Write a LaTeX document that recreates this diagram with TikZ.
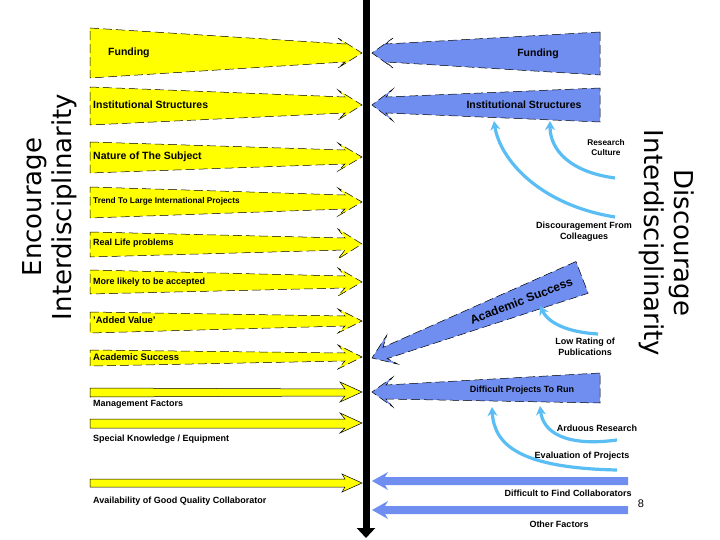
\documentclass[tikz,border=0pt]{standalone}
\usepackage{fontspec}
\setmainfont{Liberation Sans}
\newfontfamily\sidefont{DejaVu Sans}
\usetikzlibrary{arrows.meta}
\definecolor{yel}{RGB}{255,255,0}
\definecolor{blu}{RGB}{112,142,240}
\definecolor{lblu}{RGB}{90,190,245}
\tikzset{
  yarrow/.style={fill=yel,draw=black,dashed,line width=0.5pt,dash pattern=on 9pt off 4pt},
  barrow/.style={fill=blu,draw=black,dashed,line width=0.5pt,dash pattern=on 9pt off 4pt},
  lab/.style={font=\bfseries\fontsize{10.5}{12}\selectfont,inner sep=0pt},
  slab/.style={font=\bfseries\fontsize{9}{11}\selectfont,inner sep=0pt},
  curv/.style={draw=lblu,line width=3.2pt,-{Stealth[length=9pt,width=10pt]}},
  side/.style={font=\sidefont\fontsize{26}{30}\selectfont,align=center,inner sep=0pt}
}
\newcommand\yarr[5]{% top bottom tip shafthalf headhalf
  \path[yarrow] (90,#1) -- (345,#3-#4) -- (338,#3-#5) -- (362,#3) -- (338,#3+#5) -- (345,#3+#4) -- (90,#2) -- cycle;}
\newcommand\barr[5]{% top bottom tip shafthalf headhalf
  \path[barrow] (600,#1) -- (386,#3-#4) -- (393,#3-#5) -- (372,#3) -- (393,#3+#5) -- (386,#3+#4) -- (600,#2) -- cycle;}
\begin{document}
\begin{tikzpicture}[x=1pt,y=-1pt]
\useasboundingbox (0,0) rectangle (720,540);
\fill[white] (0,0) rectangle (720,540);
% yellow arrows
\yarr{28}{78}{53}{9}{15}
\yarr{87}{125}{105}{8}{15}
\yarr{142}{173}{157}{7}{14}
\yarr{187}{218}{202}{7}{14}
\yarr{232}{257}{244}{6}{15}
\yarr{270}{294}{282}{6}{14}
\yarr{312}{333}{321}{5}{12}
\yarr{350}{366}{357}{4}{12}
\path[yarrow,solid] (90,388) -- (345,389) -- (340,382) -- (362,392) -- (340,402) -- (345,396) -- (90,397) -- cycle;
\path[yarrow,solid] (90,419) -- (345,419) -- (340,413) -- (362,423) -- (340,433) -- (345,428) -- (90,428) -- cycle;
\path[yarrow,solid] (90,479) -- (345,479) -- (342,474) -- (362,483) -- (342,492) -- (345,487) -- (90,487) -- cycle;
\node[lab,anchor=west] (y1) at (108,53) {Funding};
\node[lab,anchor=west] (y2) at (93,105) {Institutional Structures};
\node[lab,anchor=west] (y3) at (93,157) {Nature of The Subject};
\node[slab,anchor=west,font=\bfseries\fontsize{8.3}{10}\selectfont] (y4) at (93,201) {Trend To Large International Projects};
\node[slab,anchor=west] (y5) at (93,243) {Real Life problems};
\node[slab,anchor=west] (y6) at (93,282) {More likely to be accepted};
\node[lab,anchor=west,font=\bfseries\fontsize{9.5}{11}\selectfont] (y7) at (93,320) {'Added Value'};
\node[lab,anchor=west,font=\bfseries\fontsize{9.5}{11}\selectfont] (y8) at (93,357) {Academic Success};
\node[slab,anchor=west] (y9) at (93,404) {Management Factors};
\node[slab,anchor=west] (y10) at (93,439) {Special Knowledge / Equipment};
\node[slab,anchor=west] (y11) at (93,501) {Availability of Good Quality Collaborator};
% central axis
\draw[line width=7pt,-{Triangle[length=10pt,width=18pt]}] (366,0) -- (366,538);
% blue arrows
\barr{32}{75}{53}{9}{15}
\barr{88}{122}{105}{8}{16}
\barr{373}{403}{392}{7}{15}
\node[lab] (b1) at (538,54) {Funding};
\node[lab] (b2) at (524,105) {Institutional Structures};
\node[slab] (b3) at (522,390) {Difficult Projects To Run};
\begin{scope}[shift={(372,358)},rotate=21]
  \path[barrow] (225,-17) -- (14,-6) -- (22,-16) -- (0,0) -- (22,15) -- (14,6) -- (225,17) -- cycle;
  \node[lab,rotate=21,font=\bfseries\fontsize{12}{13}\selectfont] (b4) at (160,0) {Academic Success};
\end{scope}
\fill[blu] (628,477) -- (385,477) -- (388,472) -- (372,481) -- (388,490) -- (385,485) -- (628,485) -- cycle;
\fill[blu] (628,506) -- (385,506) -- (388,501) -- (372,510) -- (388,519) -- (385,514) -- (628,514) -- cycle;
\node[slab] (b5) at (568,493) {Difficult to Find Collaborators};
\node[slab] (b6) at (559,524) {Other Factors};
% light blue influences
\node[slab,align=center,font=\bfseries\fontsize{8.3}{10}\selectfont] (c1) at (606,148) {Research\\Culture};
\node[slab,align=center] (c2) at (584,232) {Discouragement From\\Colleagues};
\node[slab,align=center] (c3) at (585,347) {Low Rating of\\Publications};
\node[slab] (c4) at (597,428) {Arduous Research};
\node[slab] (c5) at (582,456) {Evaluation of Projects};
\coordinate (s1) at (615,178); \coordinate (e1) at (550,121);
\coordinate (s2) at (615,217); \coordinate (e2) at (494,121);
\coordinate (s3) at (598,334); \coordinate (e3) at (540,306);
\coordinate (s4) at (617,440); \coordinate (e4) at (540,406);
\coordinate (s5) at (617,470); \coordinate (e5) at (492,407);
\draw[curv] (s1) .. controls (570,172) and (550,150) .. (e1);
\draw[curv] (s2) .. controls (540,205) and (500,160) .. (e2);
\draw[curv] (s3) .. controls (565,332) and (548,322) .. (e3);
\draw[curv] (s4) .. controls (565,447) and (543,432) .. (e4);
\draw[curv] (s5) .. controls (520,468) and (494,445) .. (e5);
% side titles
\node[side,rotate=90] (enc) at (50,207) {Encourage\\Interdisciplinarity};
\node[side,rotate=-90] (dis) at (667,243) {Discourage\\Interdisciplinarity};
\node[font=\fontsize{11}{12}\selectfont,inner sep=0pt] (num) at (641,504) {8};
\end{tikzpicture}
\end{document}
